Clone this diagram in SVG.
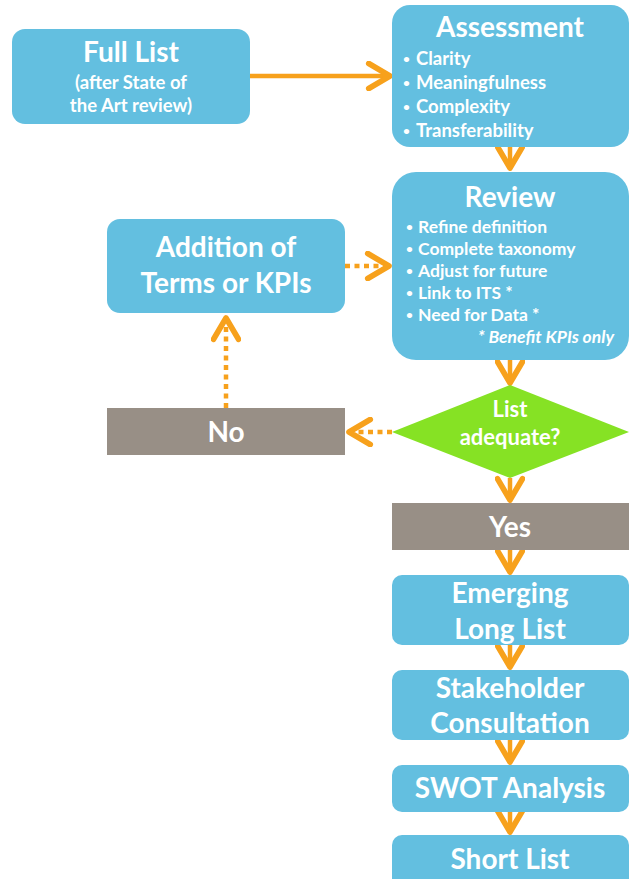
<svg xmlns="http://www.w3.org/2000/svg" width="635" height="879" viewBox="0 0 635 879">
<defs>
<marker id="chev" markerUnits="userSpaceOnUse" markerWidth="30" markerHeight="30" viewBox="-20 -12 24 24" refX="0" refY="0" orient="auto">
<path d="M-17,-10 L0,0 L-17,10" fill="none" stroke="#F7A11C" stroke-width="4.5" stroke-linecap="round" stroke-linejoin="round"/>
</marker>
</defs>
<style>
.box{fill:#63BFE0}
.gray{fill:#988F86}
.dia{fill:#86E224}
text{font-family:Lato,"Open Sans","Liberation Sans",sans-serif;font-weight:bold;fill:#fff}
.t{font-size:28px;text-anchor:middle}
.s{font-size:18.5px;text-anchor:middle}
.q{font-size:22px;text-anchor:middle}
.b{font-size:18.5px}
.r{font-size:17.5px}
.d{font-size:12px}
.line{fill:none;stroke:#F7A11C;stroke-width:4.5;marker-end:url(#chev)}
.dot{stroke-dasharray:5 4.5}
</style>
<g id="connectors">
<path class="line" d="M250,76 L390,76"/>
<path class="line" d="M510,147 L510,168"/>
<path class="line dot" d="M345,266 L389,266"/>
<path class="line dot" d="M226,408 L226,318"/>
<path class="line dot" d="M392,432 L349,432"/>
<path class="line" d="M510,360 L510,383"/>
<path class="line" d="M510,478 L510,500"/>
<path class="line" d="M510,550 L510,572"/>
<path class="line" d="M510,645 L510,667"/>
<path class="line" d="M510,740 L510,762"/>
<path class="line" d="M510,812 L510,832"/>
</g>
<g id="fulllist">
<rect class="box" x="12" y="29" width="238" height="95" rx="13"/>
<text class="t" x="131" y="62">Full List</text>
<text class="s" x="131" y="89">(after State of</text>
<text class="s" x="131" y="112">the Art review)</text>
</g>
<g id="assessment">
<rect class="box" x="392" y="5" width="237" height="142" rx="18"/>
<text class="t" x="510" y="37">Assessment</text>
<text class="b"><tspan class="d" x="403" y="63">•</tspan><tspan x="416" y="65">Clarity</tspan></text>
<text class="b"><tspan class="d" x="403" y="87">•</tspan><tspan x="416" y="89">Meaningfulness</tspan></text>
<text class="b"><tspan class="d" x="403" y="111">•</tspan><tspan x="416" y="113">Complexity</tspan></text>
<text class="b"><tspan class="d" x="403" y="135">•</tspan><tspan x="416" y="137">Transferability</tspan></text>
</g>
<g id="review">
<rect class="box" x="392" y="172" width="237" height="188" rx="24"/>
<text class="t" x="510" y="207">Review</text>
<text class="r"><tspan class="d" x="406" y="231">•</tspan><tspan x="418" y="233">Refine definition</tspan></text>
<text class="r"><tspan class="d" x="406" y="253">•</tspan><tspan x="418" y="255">Complete taxonomy</tspan></text>
<text class="r"><tspan class="d" x="406" y="275">•</tspan><tspan x="418" y="277">Adjust for future</tspan></text>
<text class="r"><tspan class="d" x="406" y="297">•</tspan><tspan x="418" y="299">Link to ITS *</tspan></text>
<text class="r"><tspan class="d" x="406" y="319">•</tspan><tspan x="418" y="321">Need for Data *</tspan></text>
<text class="r" x="614" y="343" text-anchor="end" font-style="italic">* Benefit KPIs only</text>
</g>
<g id="addition">
<rect class="box" x="107" y="219" width="238" height="94" rx="13"/>
<text class="t" x="226" y="257">Addition of</text>
<text class="t" x="226" y="293">Terms or KPIs</text>
</g>
<g id="no">
<rect class="gray" x="107" y="408" width="238" height="47"/>
<text class="t" x="226" y="442">No</text>
</g>
<g id="decision">
<polygon class="dia" points="510,385 629,432 510,478 392,432"/>
<text class="q" x="510" y="417">List</text>
<text class="q" x="510" y="445">adequate?</text>
</g>
<g id="yes">
<rect class="gray" x="392" y="503" width="237" height="47"/>
<text class="t" x="510" y="537">Yes</text>
</g>
<g id="emerging">
<rect class="box" x="392" y="575" width="237" height="70" rx="10"/>
<text class="t" x="510" y="603">Emerging</text>
<text class="t" x="510" y="639">Long List</text>
</g>
<g id="stakeholder">
<rect class="box" x="392" y="670" width="237" height="70" rx="10"/>
<text class="t" x="510" y="698">Stakeholder</text>
<text class="t" x="510" y="733">Consultation</text>
</g>
<g id="swot">
<rect class="box" x="392" y="765" width="237" height="47" rx="10"/>
<text class="t" x="510" y="798">SWOT Analysis</text>
</g>
<g id="shortlist">
<rect class="box" x="392" y="835" width="237" height="60" rx="10"/>
<text class="t" x="510" y="869">Short List</text>
</g>
</svg>
